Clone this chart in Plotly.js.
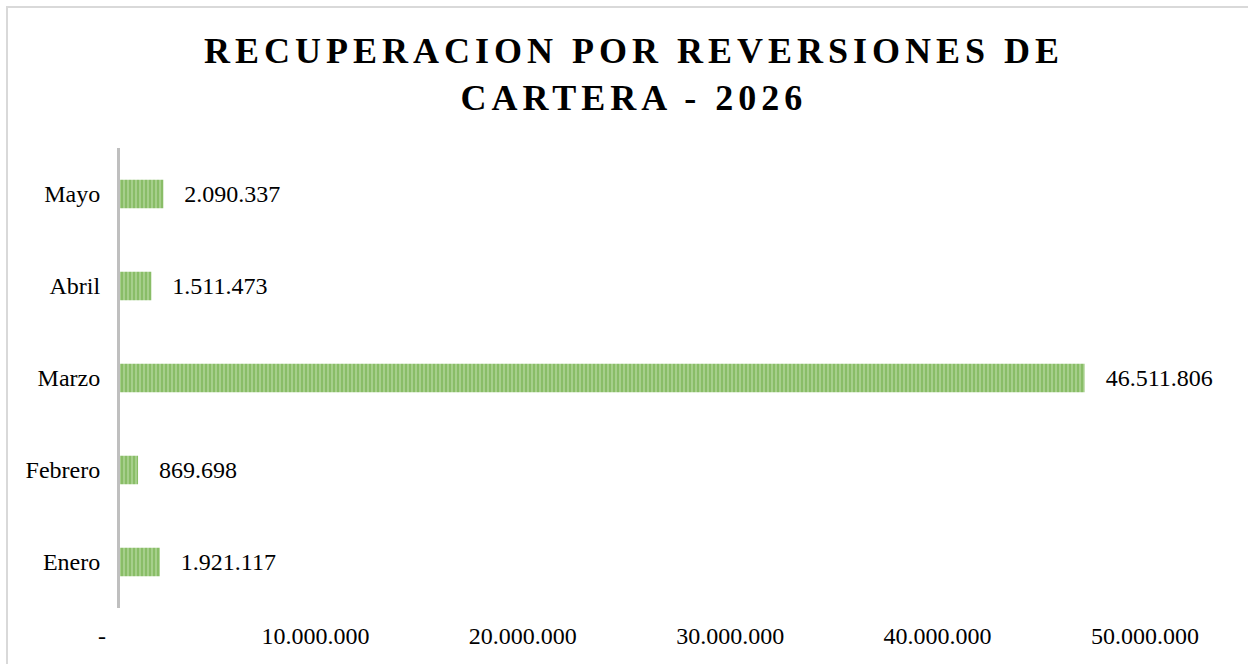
<!DOCTYPE html>
<html>
<head>
<meta charset="utf-8">
<script src="https://cdn.plot.ly/plotly-3.0.1.min.js"></script>
<style>
  html, body { margin: 0; padding: 0; background: #fff; overflow: hidden; }
  #wrap { position: relative; width: 1248px; height: 664px; }
  #chart { position: absolute; left: 0; top: 0; width: 1248px; height: 664px; }
  #frame { position: absolute; left: 6px; top: 6px; width: 1300px; height: 720px;
           border: 2px solid #d9d9d9; pointer-events: none; }
  .gtitle { letter-spacing: 5px; }
</style>
</head>
<body>
<div id="wrap">
  <div id="chart"></div>
  <div id="frame"></div>
</div>
<script>
const months = ["Enero", "Febrero", "Marzo", "Abril", "Mayo"];
const values = [1921117, 869698, 46511806, 1511473, 2090337];
const labels = ["1.921.117", "869.698", "46.511.806", "1.511.473", "2.090.337"];
const tickValues = [0, 10000000, 20000000, 30000000, 40000000, 50000000];
const tickLabels = ["-", "10.000.000", "20.000.000", "30.000.000", "40.000.000", "50.000.000"];

const nb = n => "\u00a0".repeat(n);
const serif = "Liberation Serif, Times New Roman, serif";
const data = [{
  type: "bar",
  orientation: "h",
  y: months,
  x: values,
  width: 0.31,
  text: labels.map(s => nb(3) + s),
  textposition: "outside",
  cliponaxis: false,
  textfont: { family: serif, size: 24, color: "#000" },
  marker: {
    color: "#a9d18e",
    line: { width: 0 },
    pattern: { shape: "|", fgcolor: "#6aaa3f", size: 4, solidity: 0.55, fillmode: "overlay" }
  },
  hoverinfo: "none"
}];

const layout = {
  width: 1248, height: 664,
  margin: { l: 120, r: 91, t: 148, b: 56 },
  paper_bgcolor: "#ffffff",
  plot_bgcolor: "#ffffff",
  showlegend: false,
  bargap: 0.69,
  title: {
    text: "RECUPERACION POR REVERSIONES DE<br>CARTERA - 2026",
    font: { family: serif, size: 36, color: "#000", weight: "bold" },
    x: 0.508, xanchor: "center",
    y: 0.905, yanchor: "top"
  },
  xaxis: {
    range: [0, 50000000],
    tickvals: tickValues,
    ticktext: tickLabels.map((s, i) => s + (i === 0 ? nb(6) : nb(4))),
    showgrid: false, zeroline: false, showline: false,
    ticks: "",
    ticklabelstandoff: 11,
    tickfont: { family: serif, size: 24, color: "#000" },
    fixedrange: true
  },
  yaxis: {
    showgrid: false, zeroline: false,
    showline: true, linecolor: "#bfbfbf", linewidth: 3,
    ticks: "", ticklen: 0,
    ticksuffix: nb(2),
    tickfont: { family: serif, size: 24, color: "#000" },
    fixedrange: true
  }
};

Plotly.newPlot("chart", data, layout, { displayModeBar: false, staticPlot: true });
</script>
</body>
</html>
